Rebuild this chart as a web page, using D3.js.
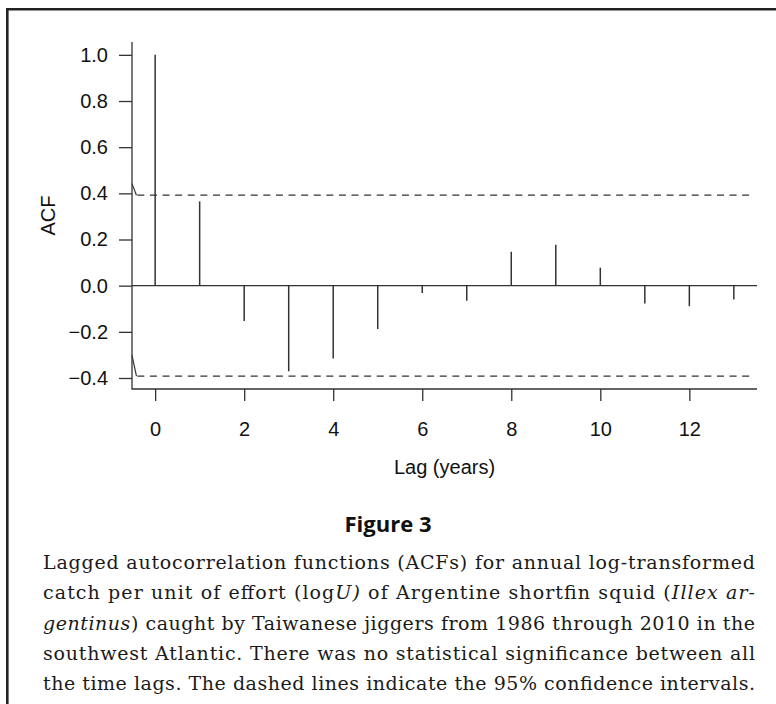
<!DOCTYPE html>
<html>
<head>
<meta charset="utf-8">
<script src="https://cdn.jsdelivr.net/npm/d3@7"></script>
<style>
  html, body { margin: 0; padding: 0; background: #fff; }
  svg { display: block; }
</style>
</head>
<body>
<div id="figure"></div>
<script>
// data
const lags = [0, 1, 2, 3, 4, 5, 6, 7, 8, 9, 10, 11, 12, 13];
const acfValues = [1.0, 0.365, -0.153, -0.371, -0.315, -0.188, -0.032, -0.065, 0.147, 0.177, 0.078, -0.077, -0.089, -0.06];
const nYears = 25; // 1986 - 2010
const confLimit = 1.96 / Math.sqrt(nYears);
const xTicks = [0, 2, 4, 6, 8, 10, 12];
const yTicks = [-0.4, -0.2, 0.0, 0.2, 0.4, 0.6, 0.8, 1.0];
const xLabel = "Lag (years)";
const yLabel = "ACF";
const figureTitle = "Figure 3";
// caption lines, [text, italic]
const captionLines = [
  [["Lagged autocorrelation functions (ACFs) for annual log-transformed", false]],
  [["catch per unit of effort (log", false], ["U)", true], [" of Argentine shortfin squid (", false], ["Illex ar-", true]],
  [["gentinus", true], [") caught by Taiwanese jiggers from 1986 through 2010 in the", false]],
  [["southwest Atlantic. There was no statistical significance between all", false]],
  [["the time lags. The dashed lines indicate the 95% confidence intervals.", false]]
];

const W = 776, H = 704;
const ink = "#333";

const svg = d3.select("#figure")
  .append("svg")
  .attr("width", W)
  .attr("height", H);

// scales (R style: 4% extension of the data range)
var xMin = d3.min(lags), xMax = d3.max(lags);
var xExt = (xMax - xMin) * 0.04;
var x = d3.scaleLinear()
  .domain([xMin - xExt, xMax + xExt])
  .range([132, 757]);

var yLo = d3.min([-confLimit, d3.min(acfValues)]);
var yHi = d3.max([confLimit, d3.max(acfValues)]);
var yExt = (yHi - yLo) * 0.04;
var y = d3.scaleLinear()
  .domain([yLo - yExt, yHi + yExt])
  .range([389, 42]);

// frame of the page (top + left rule)
svg.append("path")
  .attr("d", "M7.3,704 L7.3,9.3 L776,9.3")
  .attr("fill", "none")
  .attr("stroke", "#222")
  .attr("stroke-width", 2.6);

const plot = svg.append("g");

// L shaped box
plot.append("path")
  .attr("d", d3.line()([
    [x.range()[0], y.range()[1]],
    [x.range()[0], y.range()[0]],
    [x.range()[1], y.range()[0]]
  ]))
  .attr("fill", "none")
  .attr("stroke", ink)
  .attr("stroke-width", 1.3);

// axes
const yAxis = plot.append("g")
  .attr("transform", "translate(" + x.range()[0] + ",0)")
  .call(d3.axisLeft(y)
    .tickValues(yTicks)
    .tickSize(13)
    .tickPadding(11)
    .tickFormat(d => d3.format(".1f")(d).replace("-", "\u2013")));

const xAxis = plot.append("g")
  .attr("transform", "translate(0," + y.range()[0] + ")")
  .call(d3.axisBottom(x)
    .tickValues(xTicks)
    .tickSize(12)
    .tickPadding(21)
    .tickFormat(d3.format("d")));

[xAxis, yAxis].forEach(a => {
  a.select(".domain").remove();
  a.selectAll("line").attr("stroke", ink).attr("stroke-width", 1.3);
  a.selectAll("text")
    .attr("fill", "#111")
    .style("font-family", "'Liberation Sans', Arial, Helvetica, sans-serif")
    .style("font-size", "20px");
});

// zero line
plot.append("line")
  .attr("x1", x.range()[0])
  .attr("x2", x.range()[1])
  .attr("y1", y(0))
  .attr("y2", y(0))
  .attr("stroke", ink)
  .attr("stroke-width", 1.3);

// confidence limits (dashed) with the small slanted stub at the left end
[confLimit, -confLimit].forEach((c, i) => {
  plot.append("line")
    .attr("x1", x(-0.4))
    .attr("x2", x(13.4))
    .attr("y1", y(c))
    .attr("y2", y(c))
    .attr("stroke", ink)
    .attr("stroke-width", 1.2)
    .attr("stroke-dasharray", "7,5.6");
  plot.append("line")
    .attr("x1", x.range()[0])
    .attr("y1", y(c + (i == 0 ? 0.05 : 0.09)))
    .attr("x2", x(-0.42))
    .attr("y2", y(c))
    .attr("stroke", ink)
    .attr("stroke-width", 1.2);
});

// ACF spikes
plot.selectAll(".spike")
  .data(lags)
  .join("line")
  .attr("class", "spike")
  .attr("x1", d => x(d))
  .attr("x2", d => x(d))
  .attr("y1", y(0))
  .attr("y2", (d, i) => y(acfValues[i]))
  .attr("stroke", ink)
  .attr("stroke-width", 1.5);

// axis titles
plot.append("text")
  .attr("x", (x.range()[0] + x.range()[1]) / 2)
  .attr("y", 474)
  .attr("text-anchor", "middle")
  .attr("fill", "#111")
  .style("font-family", "'Liberation Sans', Arial, Helvetica, sans-serif")
  .style("font-size", "20px")
  .text(xLabel);

plot.append("text")
  .attr("transform", "translate(55," + (y.range()[0] + y.range()[1]) / 2 + ") rotate(-90)")
  .attr("text-anchor", "middle")
  .attr("fill", "#111")
  .style("font-family", "'Liberation Sans', Arial, Helvetica, sans-serif")
  .style("font-size", "20px")
  .text(yLabel);

// caption
svg.append("text")
  .attr("x", 388)
  .attr("y", 532)
  .attr("text-anchor", "middle")
  .attr("fill", "#111")
  .style("font-family", "'Open Sans', sans-serif")
  .style("font-weight", 700)
  .style("font-size", "22px")
  .text(figureTitle);

const capLeft = 43, capRight = 755, capTop = 569, capStep = 30.3;
captionLines.forEach((parts, i) => {
  const t = svg.append("text")
    .attr("x", capLeft)
    .attr("y", capTop + i * capStep)
    .attr("textLength", capRight - capLeft)
    .attr("lengthAdjust", "spacing")
    .attr("fill", "#1a1a1a")
    .style("font-family", "'DejaVu Serif', serif")
    .style("font-size", "19px");
  parts.forEach(p => {
    t.append("tspan")
      .style("font-style", p[1] ? "italic" : "normal")
      .text(p[0]);
  });
});
</script>
</body>
</html>
